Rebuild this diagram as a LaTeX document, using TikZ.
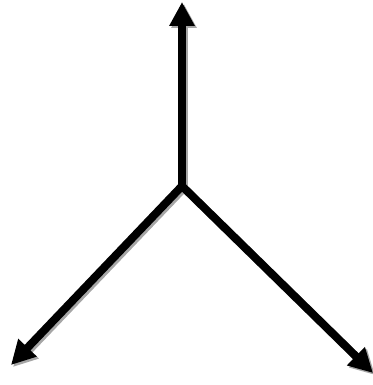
\documentclass[tikz,border=0pt]{standalone}
\usetikzlibrary{arrows.meta}
\begin{document}
\begin{tikzpicture}[x=1pt,y=-1pt,
  arr/.style={line width=8pt,-{Triangle[length=24pt,width=24pt]}},
  shadowarr/.style={arr,draw=black!35,fill=black!35}]
\useasboundingbox (0,0) rectangle (372,385);
\coordinate (c) at (182,186);
\coordinate (t) at (182,2);
\coordinate (l) at (11,365);
\coordinate (r) at (373,373);
\begin{scope}[shift={(2,2)}]
\coordinate (cs) at (182,186);
\coordinate (ts) at (182,2);
\coordinate (ls) at (11,365);
\coordinate (rs) at (373,373);
\draw[shadowarr] (cs) -- (ts);
\draw[shadowarr] (cs) -- (ls);
\draw[shadowarr] (cs) -- (rs);
\end{scope}
\draw[arr] (c) -- (t);
\draw[arr] (c) -- (l);
\draw[arr] (c) -- (r);
\end{tikzpicture}
\end{document}
